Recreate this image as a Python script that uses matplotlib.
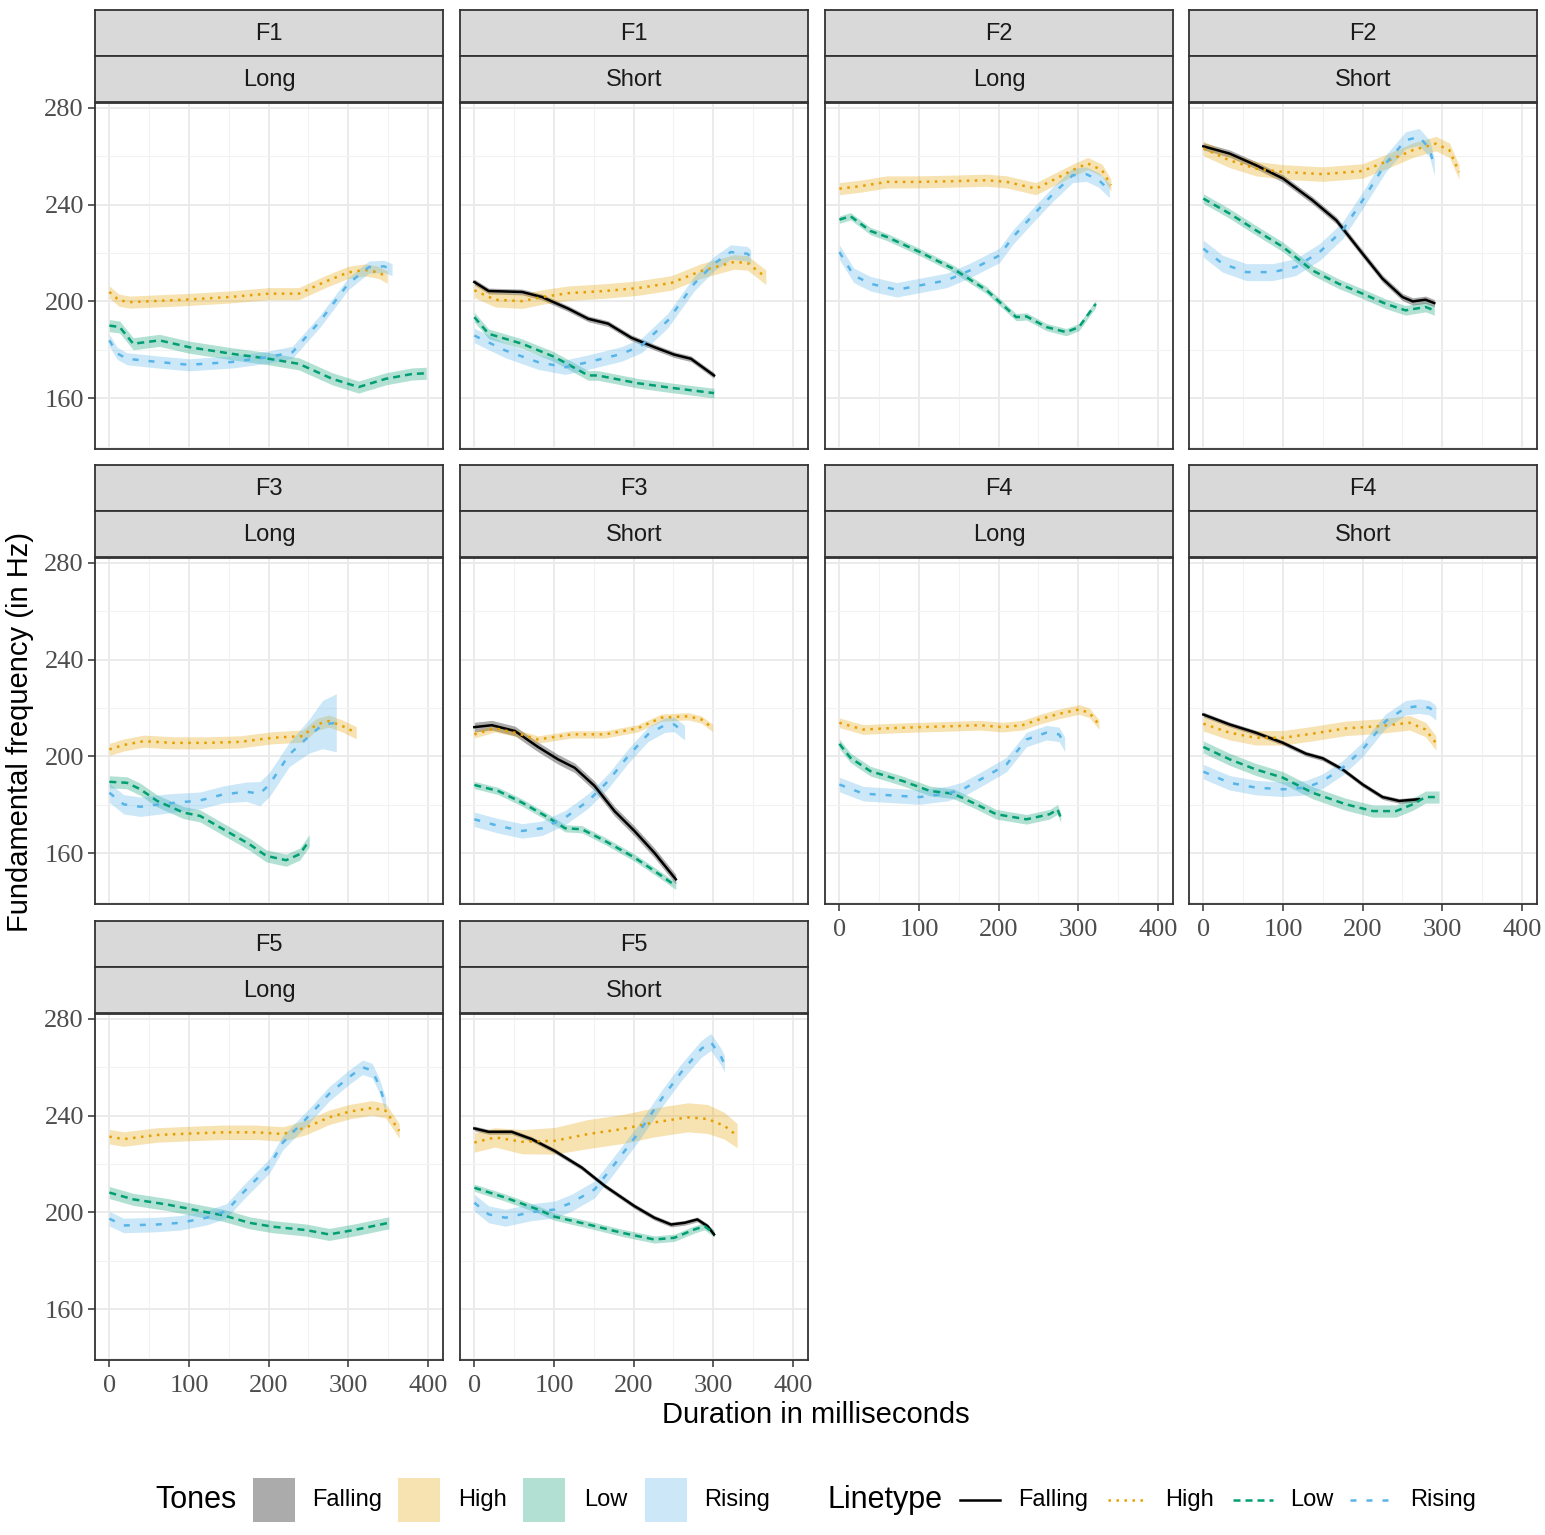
import numpy as np
import matplotlib
matplotlib.use("Agg")
import matplotlib.pyplot as plt
from matplotlib.patches import Rectangle
from matplotlib.ticker import MultipleLocator

# ---- data (x in ms, y in Hz, se = ribbon half width) ----
f1l_high_x = [0, 12, 26, 60, 100, 150, 200, 238, 270, 300, 321, 338, 349]
f1l_high_y = [203.9, 200.5, 199.7, 200.2, 200.8, 201.8, 203.2, 203.2, 208, 212, 213, 212, 210]
f1l_low_x = [0, 13, 30, 63, 100, 155, 200, 238, 280, 313, 347, 380, 398]
f1l_low_y = [190, 189.4, 182.5, 183.9, 181.1, 178.3, 176.3, 174.2, 168, 164.6, 168, 170, 170.3]
f1l_rise_x = [0, 10, 22, 60, 100, 155, 200, 230, 265, 300, 326, 345, 355]
f1l_rise_y = [183.9, 178.5, 176.3, 175, 173.8, 175, 177, 179, 192, 207.3, 214.2, 214.5, 213.1]

f1s_fall_x = [0, 18, 60, 85, 118, 143, 168, 197, 226, 251, 272, 301]
f1s_fall_y = [208, 204.3, 203.9, 201.8, 197, 192.8, 190.8, 185, 181.1, 178, 176.3, 169.4]
f1s_high_x = [0, 26, 60, 85, 118, 164, 205, 247, 285, 326, 343, 366]
f1s_high_y = [204.6, 200.7, 200.1, 201.8, 203.4, 204.3, 205.5, 207.6, 212.6, 216.3, 215.9, 210]
f1s_low_x = [0, 18, 60, 101, 143, 155, 205, 247, 301]
f1s_low_y = [193.5, 186.6, 182.5, 177, 169.4, 169.4, 166.2, 164.3, 162.1]
f1s_rise_x = [0, 39, 80, 114, 143, 185, 210, 243, 276, 301, 322, 343, 347]
f1s_rise_y = [185.9, 179.7, 174.9, 172.8, 174.9, 178.3, 181.8, 192.1, 207.3, 215.6, 220.4, 219.7, 218.3]

f2l_high_x = [0, 26, 60, 101, 143, 185, 210, 247, 268, 297, 312, 330, 341]
f2l_high_y = [246.6, 247.6, 249.4, 249.4, 249.7, 250.1, 249.4, 246.6, 250.1, 254.9, 257, 254.2, 248]
f2l_low_x = [0, 14, 39, 60, 101, 143, 185, 222, 235, 260, 285, 301, 322]
f2l_low_y = [233.8, 235.2, 229.1, 226.6, 220.4, 213.5, 204.6, 193.5, 193.8, 189.4, 187.3, 189.4, 199]
f2l_rise_x = [0, 18, 39, 72, 101, 135, 164, 201, 218, 243, 268, 293, 310, 326, 339]
f2l_rise_y = [220.4, 210.8, 207.3, 204.8, 206.6, 208.7, 212.8, 219, 226.6, 235.6, 244.3, 252.1, 252.6, 250.1, 245.9]

f2s_fall_x = [0, 33, 66, 100, 137, 167, 200, 225, 250, 263, 279, 290]
f2s_fall_y = [264.1, 261.1, 256.3, 250.8, 241.8, 233.5, 219.7, 209.4, 201.8, 200, 200.7, 199.3]
f2s_high_x = [0, 33, 66, 100, 150, 200, 229, 263, 292, 309, 321]
f2s_high_y = [263.2, 258.3, 254.9, 253.5, 252.6, 253.9, 257.7, 262.5, 265.2, 262.5, 253.5]
f2s_low_x = [0, 33, 66, 100, 137, 170, 200, 229, 254, 279, 290]
f2s_low_y = [242.5, 236.3, 229.4, 222.5, 212.8, 207.3, 203.2, 199, 196.3, 197.7, 196.3]
f2s_rise_x = [0, 24, 54, 87, 116, 146, 175, 200, 229, 254, 271, 284, 290]
f2s_rise_y = [221.8, 215.6, 212.1, 212.1, 214.2, 220.4, 229.4, 241.8, 257, 266.6, 268, 263.2, 255.6]

f3l_high_x = [0, 18, 43, 80, 122, 164, 205, 243, 260, 276, 293, 310]
f3l_high_y = [202.9, 204.7, 206.3, 205.6, 205.6, 206, 207.7, 208.4, 213.2, 214.6, 212.5, 209.8]
f3l_low_x = [0, 22, 39, 60, 93, 114, 143, 176, 197, 222, 239, 251]
f3l_low_y = [189.5, 189.1, 186.4, 181.6, 176.8, 175.4, 169.9, 163.7, 158.9, 157.1, 159.6, 165.1]
f3l_rise_x = [0, 18, 39, 72, 114, 143, 172, 189, 201, 226, 251, 268, 285]
f3l_rise_y = [185, 180.2, 179.2, 180.5, 181.8, 184.3, 185.4, 184.6, 188.4, 200.8, 208.4, 213.2, 213.9]
f3l_rise_se = [4, 4, 4, 4, 3.5, 3.5, 4, 5, 5, 5, 7, 10, 12]

f3s_fall_x = [0, 22, 51, 80, 105, 126, 151, 176, 201, 226, 253]
f3s_fall_y = [212.1, 212.9, 210.5, 203.9, 198.8, 195.3, 187.8, 177.4, 169.2, 160.2, 149.2]
f3s_high_x = [0, 26, 51, 80, 122, 164, 205, 235, 268, 285, 299]
f3s_high_y = [209.1, 211.6, 209.8, 207, 209.1, 209.1, 211.6, 216, 216.6, 215.3, 211.8]
f3s_low_x = [0, 30, 60, 93, 114, 135, 164, 201, 226, 253]
f3s_low_y = [188.2, 185.7, 180.9, 174.7, 170.3, 169.9, 165.1, 158.2, 152.7, 146.5]
f3s_rise_x = [0, 30, 60, 85, 114, 143, 168, 193, 218, 239, 251, 264]
f3s_rise_y = [174, 171.3, 169.2, 170.3, 174.7, 181.6, 189.8, 200.1, 209.1, 212.9, 213.2, 209.8]

f4l_high_x = [0, 30, 60, 101, 143, 176, 205, 230, 251, 276, 301, 314, 326]
f4l_high_y = [213.9, 211.1, 211.6, 212.1, 212.5, 212.9, 212.1, 212.9, 215.3, 217.6, 219.4, 218, 213.2]
f4l_low_x = [0, 14, 39, 80, 114, 143, 172, 197, 235, 264, 274, 278]
f4l_low_y = [205.2, 199.4, 193.9, 189.8, 185.7, 184.6, 180.2, 176.1, 174, 176.1, 178.1, 174.7]
f4l_rise_x = [0, 30, 80, 101, 135, 155, 185, 210, 235, 260, 276, 283]
f4l_rise_y = [188.4, 184.6, 183.6, 183.2, 184.6, 186.4, 191.9, 196.7, 207, 209.8, 209.1, 205]

f4s_fall_x = [0, 33, 66, 100, 129, 150, 175, 200, 225, 246, 271]
f4s_fall_y = [217.3, 213.2, 209.8, 205.6, 201.1, 199.2, 194.6, 188.4, 183.2, 181.6, 182.3]
f4s_high_x = [0, 33, 66, 100, 137, 179, 221, 259, 279, 292]
f4s_high_y = [213.5, 209.8, 207.7, 207.7, 209.4, 211.6, 212.5, 213.9, 211.1, 205.6]
f4s_low_x = [0, 33, 66, 100, 137, 179, 213, 242, 263, 279, 296]
f4s_low_y = [203.9, 198.8, 194.6, 191.2, 185, 180.2, 177.4, 177.4, 180.2, 183.2, 183.2]
f4s_rise_x = [0, 33, 66, 100, 129, 150, 175, 200, 229, 254, 271, 284, 292]
f4s_rise_y = [193.7, 189.1, 187.1, 186.4, 187.1, 189.8, 195.3, 202.9, 214.6, 220.1, 220.8, 220.1, 218]

f5l_high_x = [0, 18, 60, 101, 143, 185, 218, 247, 276, 301, 330, 347, 364]
f5l_high_y = [231.3, 230.3, 232, 232.6, 233.1, 233.1, 232.4, 235.1, 239.3, 241.6, 243.2, 242, 233.7]
f5l_low_x = [0, 30, 72, 114, 143, 176, 205, 247, 276, 310, 351]
f5l_low_y = [208.2, 205.4, 203.3, 200.6, 198.8, 195.7, 194.1, 192.7, 190.9, 192.9, 195.7]
f5l_rise_x = [0, 18, 60, 89, 122, 147, 168, 201, 218, 251, 276, 301, 318, 330, 339, 347]
f5l_rise_y = [197.4, 194.6, 195, 195.7, 197.8, 200.6, 208.2, 219.2, 228.9, 240, 249, 255.9, 260, 258.6, 252.4, 244.1]

f5s_fall_x = [0, 18, 47, 72, 101, 135, 164, 201, 226, 247, 264, 280, 293, 301]
f5s_fall_y = [234.7, 233.3, 233.3, 230.3, 225.4, 218.5, 210.9, 202.6, 197.8, 195, 195.7, 197.1, 194.3, 190.9]
f5s_high_x = [0, 26, 60, 101, 143, 185, 226, 268, 293, 314, 330]
f5s_high_y = [228.9, 231, 229.2, 229.6, 232.4, 234.4, 237.2, 239.3, 238.6, 235.8, 231.7]
f5s_high_se = [4, 4, 5, 5.5, 6, 6, 6, 6, 6, 5.5, 5]
f5s_low_x = [0, 39, 80, 101, 143, 185, 226, 251, 276, 289, 301]
f5s_low_y = [210.2, 206.1, 201.2, 198.2, 195, 191.6, 188.8, 189.5, 192.9, 194.3, 191.3]
f5s_rise_x = [0, 18, 39, 72, 101, 122, 151, 176, 205, 235, 260, 285, 297, 310, 314]
f5s_rise_y = [204, 199.2, 197.8, 200.1, 201.2, 204, 209.5, 219.9, 232.4, 246.9, 258, 267.6, 270.4, 264.2, 261.4]

speakers = ["F1", "F1", "F2", "F2", "F3", "F3", "F4", "F4", "F5", "F5"]
lengths = ["Long", "Short"] * 5
tones = ["Falling", "High", "Low", "Rising"]
x_ticks = [0, 100, 200, 300, 400]
y_ticks = [160, 200, 240, 280]

# panel -> list of (tone, x, y, se)
panels = [
    [("High", f1l_high_x, f1l_high_y, 2.5), ("Low", f1l_low_x, f1l_low_y, 2.5),
     ("Rising", f1l_rise_x, f1l_rise_y, 2.5)],
    [("Falling", f1s_fall_x, f1s_fall_y, 1.2), ("High", f1s_high_x, f1s_high_y, 3),
     ("Low", f1s_low_x, f1s_low_y, 2), ("Rising", f1s_rise_x, f1s_rise_y, 3)],
    [("High", f2l_high_x, f2l_high_y, 2.5), ("Low", f2l_low_x, f2l_low_y, 1.5),
     ("Rising", f2l_rise_x, f2l_rise_y, 3)],
    [("Falling", f2s_fall_x, f2s_fall_y, 1.5), ("High", f2s_high_x, f2s_high_y, 3),
     ("Low", f2s_low_x, f2s_low_y, 2), ("Rising", f2s_rise_x, f2s_rise_y, 3.5)],
    [("High", f3l_high_x, f3l_high_y, 2.5), ("Low", f3l_low_x, f3l_low_y, 2.5),
     ("Rising", f3l_rise_x, f3l_rise_y, f3l_rise_se)],
    [("Falling", f3s_fall_x, f3s_fall_y, 2), ("High", f3s_high_x, f3s_high_y, 1.5),
     ("Low", f3s_low_x, f3s_low_y, 1.5), ("Rising", f3s_rise_x, f3s_rise_y, 3)],
    [("High", f4l_high_x, f4l_high_y, 2), ("Low", f4l_low_x, f4l_low_y, 2),
     ("Rising", f4l_rise_x, f4l_rise_y, 3)],
    [("Falling", f4s_fall_x, f4s_fall_y, 1), ("High", f4s_high_x, f4s_high_y, 3),
     ("Low", f4s_low_x, f4s_low_y, 2.5), ("Rising", f4s_rise_x, f4s_rise_y, 3)],
    [("High", f5l_high_x, f5l_high_y, 3), ("Low", f5l_low_x, f5l_low_y, 2.5),
     ("Rising", f5l_rise_x, f5l_rise_y, 3)],
    [("Falling", f5s_fall_x, f5s_fall_y, 1), ("High", f5s_high_x, f5s_high_y, f5s_high_se),
     ("Low", f5s_low_x, f5s_low_y, 1.5), ("Rising", f5s_rise_x, f5s_rise_y, 3.5)],
]

colors = {"Falling": "#000000", "High": "#E69F00", "Low": "#009E73", "Rising": "#56B4E9"}
fill_alpha = {"Falling": 0.33, "High": 0.3, "Low": 0.3, "Rising": 0.3}
styles = {"Falling": "-", "High": (0, (1, 2.2)), "Low": (0, (2.8, 2)), "Rising": (0, (2.4, 4))}
LW = 1.8

W, H = 1545, 1535
SANS = "Liberation Sans"
SERIF = "Liberation Serif"


def rect(x0, y0, x1, y1):
    return [x0 / W, 1 - y1 / H, (x1 - x0) / W, (y1 - y0) / H]


fig = plt.figure(figsize=(W / 100, H / 100), dpi=100)

col_left = [95, 460, 825, 1189]
row_top = [103, 558, 1014]
pw, ph = 348, 346

for i, series in enumerate(panels):
    r, c = divmod(i, 4)
    x0, y0 = col_left[c], row_top[r]
    ax = fig.add_axes(rect(x0, y0, x0 + pw, y0 + ph))
    ax.set_xlim(-18, 419)
    ax.set_ylim(139, 282)
    ax.set_xticks(x_ticks)
    ax.set_yticks(y_ticks)
    ax.xaxis.set_minor_locator(MultipleLocator(50))
    ax.set_yticks([140, 180, 220, 260], minor=True)
    ax.grid(True, which="major", color="#EBEBEB", lw=1.4)
    ax.grid(True, which="minor", color="#F2F2F2", lw=0.8)
    ax.set_axisbelow(True)
    for s in ax.spines.values():
        s.set_color("#333333")
        s.set_linewidth(1.3)
    ax.tick_params(which="minor", length=0)
    ax.tick_params(which="major", length=5, width=1.1, color="#333333",
                   labelcolor="#4D4D4D", labelsize=19)
    ax.tick_params(axis="x", pad=6)
    ax.tick_params(axis="y", pad=3)
    for lab in ax.get_xticklabels() + ax.get_yticklabels():
        lab.set_fontfamily(SERIF)
    show_x = (r == 2) or (r == 1 and c >= 2)
    show_y = c == 0
    if not show_x:
        ax.tick_params(axis="x", length=0, labelbottom=False)
    if not show_y:
        ax.tick_params(axis="y", length=0, labelleft=False)

    for tone, xs, ys, se in series:
        xs = np.asarray(xs, float)
        ys = np.asarray(ys, float)
        se = np.broadcast_to(np.asarray(se, float), ys.shape)
        ax.fill_between(xs, ys - se, ys + se, color=colors[tone],
                        alpha=fill_alpha[tone], lw=0)
    for tone, xs, ys, se in series:
        ax.plot(xs, ys, color=colors[tone], ls=styles[tone], lw=LW,
                dash_capstyle="butt")

    # two stacked strips
    for k, label in enumerate([speakers[i], lengths[i]]):
        st = y0 - 93 + 46 * k
        sax = fig.add_axes(rect(x0, st, x0 + pw, st + 46))
        sax.set_facecolor("#D9D9D9")
        sax.set_xticks([])
        sax.set_yticks([])
        for s in sax.spines.values():
            s.set_color("#333333")
            s.set_linewidth(1.3)
        sax.text(0.5, 0.48, label, ha="center", va="center", fontsize=17,
                 family=SANS, color="#1A1A1A", transform=sax.transAxes)

fig.text(20 / W, 1 - 732 / H, "Fundamental frequency (in Hz)", rotation=90,
         ha="center", va="center", fontsize=21, family=SANS)
fig.text(816 / W, 1 - 1415 / H, "Duration in milliseconds",
         ha="center", va="center", fontsize=21, family=SANS)

# legend drawn in pixel coordinates along the bottom
lax = fig.add_axes(rect(0, 1460, W, H))
lax.set_xlim(0, W)
lax.set_ylim(H, 1460)
lax.axis("off")
lax.text(155, 1500, "Tones", ha="left", va="center", fontsize=22, family=SANS)
box_x = [253, 398, 523, 645]
lab_x = [312, 458, 584, 704]
for tone, bx, tx in zip(tones, box_x, lab_x):
    lax.add_patch(Rectangle((bx, 1478), 42, 44, facecolor=colors[tone],
                            alpha=fill_alpha[tone], edgecolor="none"))
    lax.text(tx, 1500, tone, ha="left", va="center", fontsize=17, family=SANS)
lax.text(828, 1500, "Linetype", ha="left", va="center", fontsize=22, family=SANS)
line_x = [960, 1108, 1233, 1350]
lab2_x = [1018, 1165, 1290, 1410]
for tone, lx, tx in zip(tones, line_x, lab2_x):
    lax.plot([lx, lx + 40], [1500, 1500], color=colors[tone], ls=styles[tone], lw=LW)
    lax.text(tx, 1500, tone, ha="left", va="center", fontsize=17, family=SANS)

fig.savefig("out.png", dpi=100)
